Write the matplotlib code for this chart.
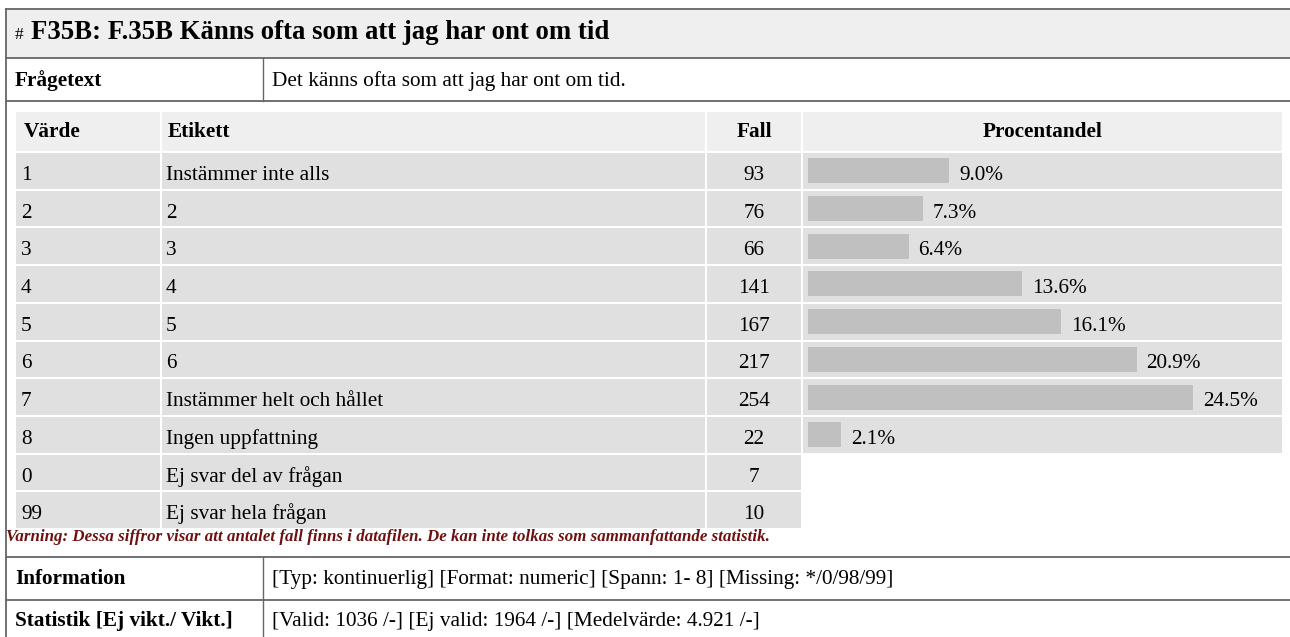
import numpy as np
import matplotlib.pyplot as plt
from matplotlib.patches import Rectangle

# --- Data ---
codes = ['1', '2', '3', '4', '5', '6', '7', '8', '0', '99']
labels = ['Instämmer inte alls', '2', '3', '4', '5', '6',
          'Instämmer helt och hållet', 'Ingen uppfattning',
          'Ej svar del av frågan', 'Ej svar hela frågan']
counts = [93, 76, 66, 141, 167, 217, 254, 22, 7, 10]
percents = [9.0, 7.3, 6.4, 13.6, 16.1, 20.9, 24.5, 2.1]  # only valid codes

title = 'F35B: F.35B Känns ofta som att jag har ont om tid'
question = 'Det känns ofta som att jag har ont om tid.'
headers = ['Värde', 'Etikett', 'Fall', 'Procentandel']
warning = ('Varning: Dessa siffror visar att antalet fall finns i datafilen. '
           'De kan inte tolkas som sammanfattande statistik.')
info_text = '[Typ: kontinuerlig] [Format: numeric] [Spann: 1- 8] [Missing: */0/98/99]'
stat_text = '[Valid: 1036 /-] [Ej valid: 1964 /-] [Medelvärde: 4.921 /-]'

# --- Layout (pixels) ---
W, H = 1290, 637
FONT = 'Liberation Serif'
BORDER = '#666666'
HEAD_BG = '#efefef'
ROW_BG = '#e0e0e0'
BAR_C = '#c0c0c0'
col_edges = [15, 161, 706, 802, 1283]
head_top, head_bot = 111, 152
row_h = 37.7
px_per_pct = 15.72
fs = 15.35

fig = plt.figure(figsize=(W / 100, H / 100), dpi=100)
ax = fig.add_axes([0, 0, 1, 1])
ax.set_xlim(0, W)
ax.set_ylim(H, 0)
ax.axis('off')


def cell(x0, x1, y0, y1, color):
    ax.add_patch(Rectangle((x0 + 1, y0 + 1), x1 - x0 - 2, y1 - y0 - 2,
                           facecolor=color, edgecolor='none', zorder=1))


# title band and outer frame
ax.add_patch(Rectangle((6, 9), W - 6, 49, facecolor=HEAD_BG, edgecolor='none', zorder=0))
for y in [9, 58, 101, 557, 600]:
    ax.plot([6, W], [y, y], color=BORDER, lw=1.3, zorder=3)
ax.plot([6, 6], [9, H], color=BORDER, lw=1.3, zorder=3)
ax.plot([263, 263], [58, 101], color=BORDER, lw=1.0, zorder=3)
ax.plot([263, 263], [557, H], color=BORDER, lw=1.0, zorder=3)

ax.text(15, 39, '#', fontsize=12.5, family=FONT, va='baseline')
ax.text(31, 39, title, fontsize=19.3, family=FONT, weight='bold', va='baseline')
ax.text(15, 86, 'Frågetext', fontsize=fs, family=FONT, weight='bold', va='baseline')
ax.text(272, 86, question, fontsize=fs, family=FONT, va='baseline')

# header row
for j in range(4):
    cell(col_edges[j], col_edges[j + 1], head_top, head_bot, HEAD_BG)
ax.text(24, head_top + 26, headers[0], fontsize=fs, family=FONT, weight='bold', va='baseline')
ax.text(168, head_top + 26, headers[1], fontsize=fs, family=FONT, weight='bold', va='baseline')
ax.text(754, head_top + 26, headers[2], fontsize=fs, family=FONT, weight='bold',
        va='baseline', ha='center')
ax.text(1043, head_top + 26, headers[3], fontsize=fs, family=FONT, weight='bold',
        va='baseline', ha='center')

# data rows
for i, (c, lab, n) in enumerate(zip(codes, labels, counts)):
    top = head_bot + i * row_h
    ncols = 4 if i < len(percents) else 3
    for j in range(ncols):
        cell(col_edges[j], col_edges[j + 1], top, top + row_h, ROW_BG)
    ax.text(21, top + 28, c, fontsize=fs, family=FONT, va='baseline')
    ax.text(166, top + 28, lab, fontsize=fs, family=FONT, va='baseline')
    ax.text(754, top + 28, str(n), fontsize=fs, family=FONT, va='baseline', ha='center')

ax.text(6, 541, warning, fontsize=12.2, family=FONT, weight='bold', style='italic',
        color='#6e1010', va='baseline')
ax.text(15, 584, 'Information', fontsize=fs, family=FONT, weight='bold', va='baseline')
ax.text(272, 584, info_text, fontsize=fs, family=FONT, va='baseline')
ax.text(15, 626, 'Statistik [Ej vikt./ Vikt.]', fontsize=fs, family=FONT, weight='bold', va='baseline')
ax.text(272, 626, stat_text, fontsize=fs, family=FONT, va='baseline')

# --- Bars in their own axes (percent scale) ---
n_rows = len(codes)
bx0, bx1 = 808, 1283
by0 = head_bot
by1 = head_bot + n_rows * row_h
bax = fig.add_axes([bx0 / W, 1 - by1 / H, (bx1 - bx0) / W, (by1 - by0) / H])
bax.set_xlim(0, (bx1 - bx0) / px_per_pct)
bax.set_ylim(n_rows, 0)
bax.axis('off')
bax.patch.set_alpha(0)
ypos = np.arange(len(percents)) + 0.5
bax.barh(ypos, percents, height=25 / row_h, color=BAR_C, edgecolor='none')
for y, p in zip(ypos, percents):
    bax.text(p + 10 / px_per_pct, y - 0.5 + 28 / row_h, f'{p:.1f}%', fontsize=fs,
             family=FONT, va='baseline')

plt.savefig('out.png', dpi=100)
plt.close()
